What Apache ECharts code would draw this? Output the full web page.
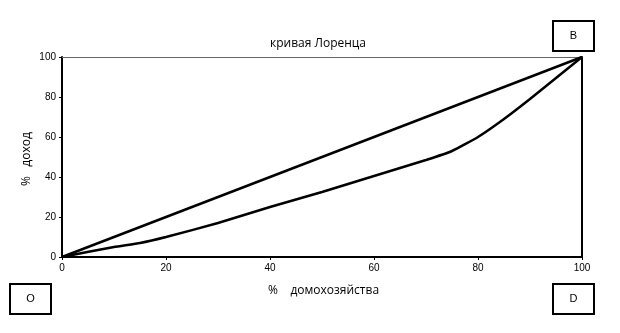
<!DOCTYPE html>
<html><head><meta charset="utf-8">
<script src="https://cdn.jsdelivr.net/npm/echarts@6/dist/echarts.min.js"></script>
<style>html,body{margin:0;padding:0;background:#fff}#c{width:620px;height:333px}</style>
</head><body><div id="c"></div>
<script>
const households = [0, 10, 15, 20, 30, 40, 50, 60, 70, 75, 80, 85, 90, 95, 100];
const incomeShare = [0, 5, 7, 10, 17, 25, 32.5, 40.5, 48.5, 53, 60, 69, 79, 89.5, 100];
const equalityX = [0, 100];
const equalityY = [0, 100];
const axisTicks = [0, 20, 40, 60, 80, 100];
const cornerLabels = ['B', 'O', 'D'];

const chart = echarts.init(document.getElementById('c'), null, {renderer: 'canvas'});
const tickFont = {fontFamily: 'Liberation Sans, Arial', fontSize: 10, color: '#000'};
const boxes = [
  {t: cornerLabels[0], x: 553, y: 21},
  {t: cornerLabels[1], x: 10, y: 284},
  {t: cornerLabels[2], x: 553, y: 284}
];
chart.setOption({
  animation: false,
  backgroundColor: '#fff',
  title: {text: 'кривая Лоренца', left: 313, top: 33, textAlign: 'center',
    textStyle: {fontFamily: 'Open Sans', fontSize: 12, fontWeight: 'normal', color: '#000'}},
  grid: {left: 62, right: 38, top: 57, bottom: 76},
  xAxis: [{
    type: 'value', min: 0, max: 100, interval: 20, position: 'bottom',
    axisLine: {onZero: false, lineStyle: {color: '#000', width: 2}},
    axisTick: {show: true, length: 3, lineStyle: {color: '#000'}},
    axisLabel: Object.assign({margin: 6, formatter: v => axisTicks.includes(v) ? String(v) : ''}, tickFont),
    splitLine: {show: false}
  }, {
    type: 'value', min: 0, max: 100, position: 'top',
    axisLine: {show: true, onZero: false, lineStyle: {color: '#666', width: 1}},
    axisTick: {show: false}, axisLabel: {show: false}, splitLine: {show: false}
  }],
  yAxis: [{
    type: 'value', min: 0, max: 100, interval: 20, position: 'left',
    axisLine: {show: true, onZero: false, lineStyle: {color: '#000', width: 2}},
    axisTick: {show: true, length: 3, lineStyle: {color: '#000'}},
    axisLabel: Object.assign({margin: 6, formatter: v => axisTicks.includes(v) ? String(v) : ''}, tickFont),
    splitLine: {show: false}
  }, {
    type: 'value', min: 0, max: 100, position: 'right',
    axisLine: {show: true, onZero: false, lineStyle: {color: '#000', width: 2}},
    axisTick: {show: false}, axisLabel: {show: false}, splitLine: {show: false}
  }],
  series: [{
    type: 'line', data: equalityX.map((x, i) => [x, equalityY[i]]),
    symbol: 'none', lineStyle: {color: '#000', width: 2.5}
  }, {
    type: 'line', data: households.map((x, i) => [x, incomeShare[i]]),
    symbol: 'none', smooth: 0.15, lineStyle: {color: '#000', width: 2.5}
  }],
  graphic: [
    {type: 'text', left: 268, top: 285, style: {text: '%    домохозяйства', font: '12px "Open Sans"', fill: '#000'}},
    {type: 'text', x: 21, y: 186, rotation: Math.PI / 2,
      style: {text: '%   доход', font: '12px "Open Sans"', fill: '#000'}}
  ].concat(boxes.map(b => ({
    type: 'group', x: b.x, y: b.y, children: [
      {type: 'rect', shape: {x: 0, y: 0, width: 41, height: 30}, style: {fill: '#fff', stroke: '#000', lineWidth: 2}},
      {type: 'text', x: 20.5, y: 15, style: {text: b.t, font: '11px "Liberation Sans"', fill: '#000', align: 'center', verticalAlign: 'middle'}}
    ]
  })))
});
</script></body></html>
